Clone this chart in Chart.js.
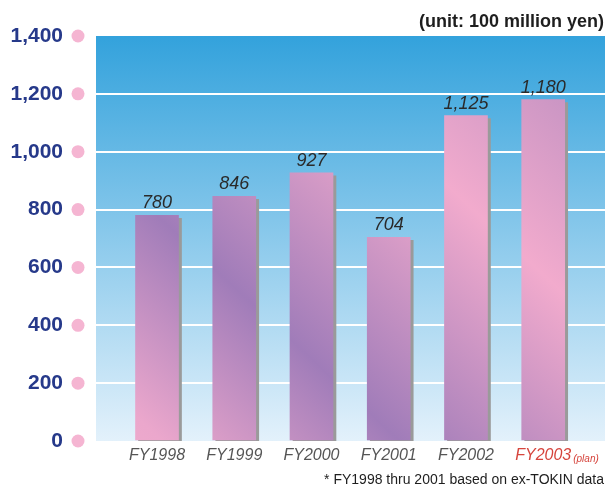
<!DOCTYPE html>
<html>
<head>
<meta charset="utf-8">
<script src="https://cdn.jsdelivr.net/npm/chart.js@4"></script>
<style>
  body { margin: 0; background: #fff; }
  canvas { display: block; }
</style>
</head>
<body>
<canvas id="salesChart" width="607" height="492"></canvas>
<script>
// Net sales by fiscal year (unit: 100 million yen)
let years = ['FY1998', 'FY1999', 'FY2000', 'FY2001', 'FY2002', 'FY2003'];
let sales = [780, 846, 927, 704, 1125, 1180];
let yTicks = [0, 200, 400, 600, 800, 1000, 1200, 1400];

let navy = '#26398a';
let pinkDot = '#f5b5d2';
let planRed = '#d6453d';

// bars share one diagonal pink/purple gradient across the plot
function barFill(context) {
  let area = context.chart.chartArea;
  if (!area) return '#c08cc0';
  let c = context.chart.ctx;
  let x0 = area.left, y0 = area.bottom;
  let g = c.createLinearGradient(x0, y0, x0 + 0.93 * 473, y0 - 473);
  g.addColorStop(0, '#f0abcd');
  g.addColorStop(0.07, '#eba7cc');
  g.addColorStop(0.32, '#a07cb9');
  g.addColorStop(0.66, '#f2abcd');
  g.addColorStop(1, '#b58abf');
  return g;
}

let backdrop = {
  id: 'backdrop',
  beforeDraw(chart) {
    let { ctx, chartArea: a } = chart;
    let g = ctx.createLinearGradient(0, a.top, 0, a.bottom);
    g.addColorStop(0, '#33a2dc');
    g.addColorStop(1, '#e3f1fb');
    ctx.save();
    ctx.fillStyle = g;
    ctx.fillRect(a.left, a.top, a.right - a.left, a.bottom - a.top);
    ctx.restore();
  },
  beforeDatasetsDraw(chart) {
    let ctx = chart.ctx;
    ctx.save();
    ctx.shadowColor = '#9a9a9a';
    ctx.shadowOffsetX = 3;
    ctx.shadowOffsetY = 3;
    ctx.shadowBlur = 0;
  },
  afterDatasetsDraw(chart) {
    let ctx = chart.ctx;
    ctx.restore();
    // value labels over the bars
    ctx.save();
    ctx.font = 'italic 18px "Liberation Sans", Arial, sans-serif';
    ctx.fillStyle = '#2a2a2a';
    ctx.textAlign = 'center';
    ctx.textBaseline = 'alphabetic';
    chart.getDatasetMeta(0).data.forEach((bar, i) => {
      ctx.fillText(sales[i].toLocaleString('en-US'), bar.x, bar.y - 7);
    });
    ctx.restore();
  },
  afterDraw(chart) {
    let { ctx, chartArea: a, scales } = chart;
    ctx.save();
    // pink dots next to the y labels
    ctx.fillStyle = pinkDot;
    yTicks.forEach(v => {
      ctx.beginPath();
      ctx.arc(a.left - 18, scales.y.getPixelForValue(v), 6.5, 0, Math.PI * 2);
      ctx.fill();
    });
    // "(plan)" after the last year
    let last = years.length - 1;
    ctx.font = 'italic 16px "Liberation Sans", Arial, sans-serif';
    let w = ctx.measureText(years[last]).width;
    let px = scales.x.getPixelForValue(last) + w / 2 + 2;
    ctx.font = 'italic 10px "Liberation Sans", Arial, sans-serif';
    ctx.fillStyle = planRed;
    ctx.textAlign = 'left';
    ctx.textBaseline = 'alphabetic';
    ctx.fillText('(plan)', px, a.bottom + 21);
    // unit and footnote
    ctx.textAlign = 'right';
    ctx.fillStyle = '#1e1e1e';
    ctx.font = 'bold 18px "Liberation Sans", Arial, sans-serif';
    ctx.fillText('(unit: 100 million yen)', 604, 27);
    ctx.font = '14px "Liberation Sans", Arial, sans-serif';
    ctx.fillText('* FY1998 thru 2001 based on ex-TOKIN data', 604, 484);
    ctx.restore();
  }
};

let ctx = document.getElementById('salesChart').getContext('2d');
let salesChart = new Chart(ctx, {
  type: 'bar',
  data: {
    datasets: [{
      data: sales.map((v, i) => ({ x: i, y: v })),
      backgroundColor: barFill,
      borderWidth: 0,
      barThickness: 43
    }]
  },
  options: {
    responsive: false,
    animation: false,
    layout: { padding: { top: 36, right: 2, left: 0, bottom: 0 } },
    plugins: {
      legend: { display: false },
      tooltip: { enabled: false }
    },
    scales: {
      x: {
        type: 'linear',
        offset: false,
        min: -0.79,
        max: 5.8,
        afterBuildTicks: scale => { scale.ticks = years.map((y, i) => ({ value: i })); },
        afterFit: scale => { scale.height = 51; },
        grid: { display: false, drawTicks: false },
        border: { display: false },
        ticks: {
          autoSkip: false,
          maxRotation: 0,
          padding: 5,
          font: { family: '"Liberation Sans", Arial, sans-serif', size: 16, style: 'italic' },
          color: c => c.index === years.length - 1 ? planRed : '#555555',
          callback: v => years[v]
        }
      },
      y: {
        min: 0,
        max: 1400,
        afterBuildTicks: scale => { scale.ticks = yTicks.map(v => ({ value: v })); },
        afterFit: scale => {
          scale.width = 96;
          scale.paddingTop = 13;
          scale.paddingBottom = 13;
        },
        grid: {
          drawTicks: false,
          lineWidth: 2,
          color: c => (c.tick && (c.tick.value === 0 || c.tick.value === 1400)) ? 'rgba(0,0,0,0)' : '#ffffff'
        },
        border: { display: false },
        ticks: {
          padding: 33,
          font: { family: '"Liberation Sans", Arial, sans-serif', size: 21, weight: 'bold' },
          color: navy,
          callback: v => v.toLocaleString('en-US')
        }
      }
    }
  },
  plugins: [backdrop]
});
</script>
</body>
</html>
